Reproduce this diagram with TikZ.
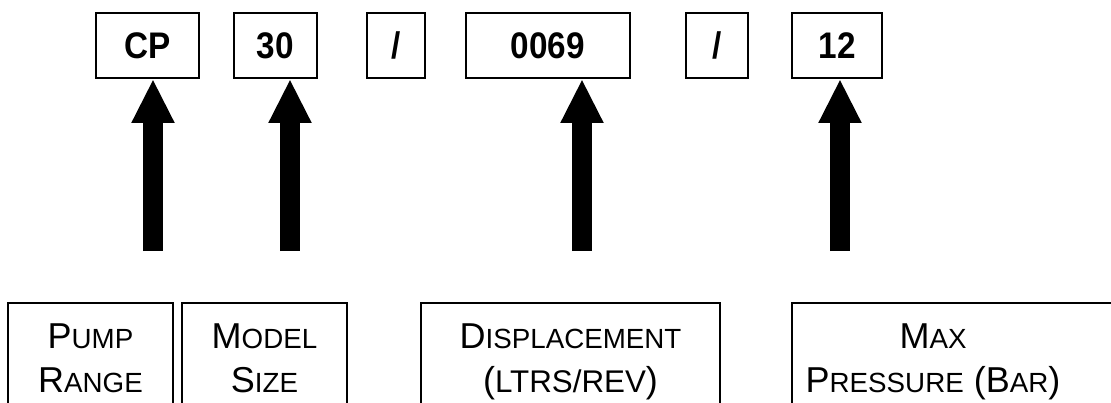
\documentclass[tikz,border=0pt]{standalone}
\usepackage{fontspec}
\setmainfont{Liberation Sans}[BoldFeatures={FakeStretch=0.9}]
\usetikzlibrary{arrows.meta}

\newcommand{\lowcap}[1]{{\fontsize{20.8pt}{33pt}\selectfont #1}}
\newcommand{\unitcap}[1]{{\fontsize{23.5pt}{33pt}\selectfont #1}}
\tikzset{every picture/.style={line width=0.75pt}}

\begin{document}
\begin{tikzpicture}[x=0.75pt,y=0.75pt,yscale=-1,xscale=1,
	codebox/.style={draw, line width=1.5pt, minimum height=48.75pt, inner sep=0pt, font=\bfseries\fontsize{27.75pt}{30pt}\selectfont},
	fieldbox/.style={draw, line width=1.5pt},
	fieldtext/.style={anchor=north, align=center, inner sep=0pt, font=\fontsize{27pt}{33pt}\selectfont},
	pointer/.style={line width=15pt, -{Triangle[length=33pt,width=30pt]}}]

		\useasboundingbox (0,0) rectangle (1111,403);
		\clip (0,0) rectangle (1111,403);

		%Code boxes
		\node (cp) at (147.5,45.5) [codebox, minimum width=77.25pt] {CP};
		\node (size) at (275.5,45.5) [codebox, minimum width=62.25pt] {30};
		\node (slasha) at (396,45.5) [codebox, minimum width=43.5pt] {/};
		\node (disp) at (548,45.5) [codebox, minimum width=123pt] {0069};
		\node (slashb) at (717,45.5) [codebox, minimum width=46.5pt] {/};
		\node (bar) at (837,45.5) [codebox, minimum width=67.5pt] {12};

		%Arrows
		\coordinate (cpfoot) at (153,251);
		\coordinate (sizefoot) at (290,251);
		\coordinate (dispfoot) at (582,251);
		\coordinate (barfoot) at (840,251);
		\draw [pointer] (cpfoot) -- (cpfoot |- cp.south);
		\draw [pointer] (sizefoot) -- (sizefoot |- size.south);
		\draw [pointer] (dispfoot) -- (dispfoot |- disp.south);
		\draw [pointer] (barfoot) -- (barfoot |- bar.south);

		%Field boxes
		\draw [fieldbox] (8,303) rectangle (173,430);
		\draw [fieldbox] (182,303) rectangle (347,430);
		\draw [fieldbox] (421,303) rectangle (720,430);
		\draw [fieldbox] (792,303) rectangle (1130,430);

		% Text Node
		\node (rangetxt) at (90.5,323.2) [fieldtext] {P\lowcap{UMP}\\R\lowcap{ANGE}};
		% Text Node
		\node (modeltxt) at (264.5,323.2) [fieldtext] {M\lowcap{ODEL}\\S\lowcap{IZE}};
		% Text Node
		\node (disptxt) at (570.5,323.2) [fieldtext] {D\lowcap{ISPLACEMENT}\\(\unitcap{LTRS/REV})};
		% Text Node
		\node (bartxt) at (933,323.2) [fieldtext] {M\lowcap{AX}\\P\lowcap{RESSURE} (B\lowcap{AR})};

	\end{tikzpicture}
\end{document}
